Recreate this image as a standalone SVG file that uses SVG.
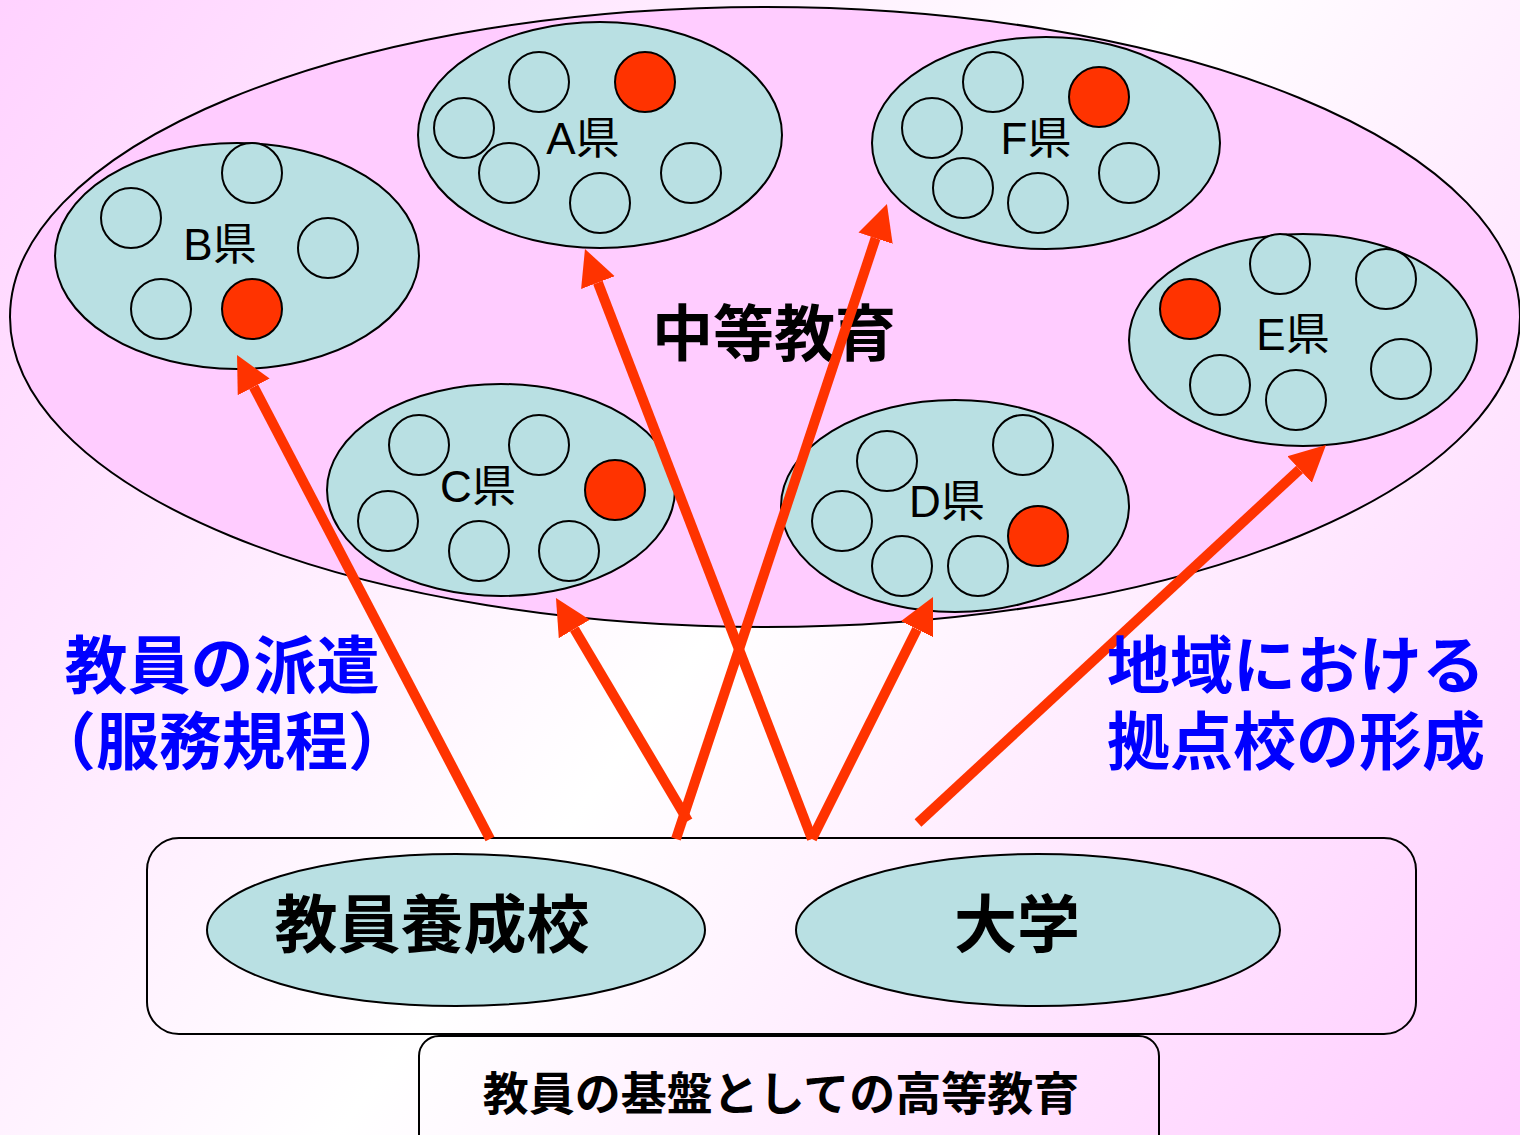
<svg xmlns="http://www.w3.org/2000/svg" width="1520" height="1135" viewBox="0 0 1520 1135">
<defs>
<linearGradient id="bg" x1="0" y1="0" x2="1520" y2="1135" gradientUnits="userSpaceOnUse">
<stop offset="0" stop-color="#FFD2FF"/>
<stop offset="0.5" stop-color="#FFFFFF"/>
<stop offset="1" stop-color="#FFCCFF"/>
</linearGradient>
<marker id="ah" markerUnits="userSpaceOnUse" markerWidth="40" markerHeight="40" viewBox="0 -20 40 40" refX="0" refY="0" orient="auto">
<path d="M0,-18 L36,0 L0,18 Z" fill="#FF3300"/>
</marker>
</defs>
<style>
.pref{fill:#B9E0E3;stroke:#000;stroke-width:2}
.sc{fill:#B9E0E3;stroke:#000;stroke-width:2}
.rc{fill:#FF3300;stroke:#000;stroke-width:2}
.lbl{font-family:"Liberation Sans","Noto Sans CJK JP",sans-serif;font-size:44px;fill:#000;text-anchor:middle}
.big{font-family:"Noto Sans CJK JP",sans-serif;font-weight:bold;fill:#000;text-anchor:middle}
.blue{font-family:"Noto Sans CJK JP",sans-serif;font-weight:bold;fill:#0000FF;text-anchor:middle;font-size:63px}
.arr{stroke:#FF3300;stroke-width:10;fill:none;marker-end:url(#ah)}
</style>
<rect x="0" y="0" width="1520" height="1135" fill="url(#bg)"/>

<g id="secondary">
<ellipse cx="765" cy="317" rx="755" ry="310" fill="#FFCCFF" stroke="#000" stroke-width="2"/>
<text class="big" x="774" y="356" font-size="61">中等教育</text>
</g>

<g id="prefB">
<ellipse class="pref" cx="237" cy="256" rx="182" ry="113"/>
<circle class="sc" cx="252" cy="173" r="30"/>
<circle class="sc" cx="131" cy="218" r="30"/>
<circle class="sc" cx="328" cy="248" r="30"/>
<circle class="sc" cx="161" cy="309" r="30"/>
<circle class="rc" cx="252" cy="309" r="30"/>
<text class="lbl" x="220" y="260">B県</text>
</g>

<g id="prefA">
<ellipse class="pref" cx="600" cy="135" rx="182" ry="113"/>
<circle class="sc" cx="539" cy="82" r="30"/>
<circle class="rc" cx="645" cy="82" r="30"/>
<circle class="sc" cx="464" cy="128" r="30"/>
<circle class="sc" cx="509" cy="173" r="30"/>
<circle class="sc" cx="600" cy="203" r="30"/>
<circle class="sc" cx="691" cy="173" r="30"/>
<text class="lbl" x="583" y="154">A県</text>
</g>

<g id="prefF">
<ellipse class="pref" cx="1046" cy="143" rx="174" ry="106"/>
<circle class="sc" cx="993" cy="82" r="30"/>
<circle class="sc" cx="932" cy="128" r="30"/>
<circle class="rc" cx="1099" cy="97" r="30"/>
<circle class="sc" cx="963" cy="188" r="30"/>
<circle class="sc" cx="1038" cy="203" r="30"/>
<circle class="sc" cx="1129" cy="173" r="30"/>
<text class="lbl" x="1036" y="154">F県</text>
</g>

<g id="prefE">
<ellipse class="pref" cx="1303" cy="340" rx="174" ry="106"/>
<circle class="sc" cx="1280" cy="264" r="30"/>
<circle class="sc" cx="1386" cy="279" r="30"/>
<circle class="rc" cx="1190" cy="309" r="30"/>
<circle class="sc" cx="1220" cy="385" r="30"/>
<circle class="sc" cx="1296" cy="400" r="30"/>
<circle class="sc" cx="1401" cy="369" r="30"/>
<text class="lbl" x="1293" y="350">E県</text>
</g>

<g id="prefC">
<ellipse class="pref" cx="501" cy="490" rx="174" ry="106"/>
<circle class="sc" cx="419" cy="445" r="30"/>
<circle class="sc" cx="539" cy="445" r="30"/>
<circle class="rc" cx="615" cy="490" r="30"/>
<circle class="sc" cx="388" cy="521" r="30"/>
<circle class="sc" cx="479" cy="551" r="30"/>
<circle class="sc" cx="569" cy="551" r="30"/>
<text class="lbl" x="478" y="502">C県</text>
</g>

<g id="prefD">
<ellipse class="pref" cx="955" cy="506" rx="174" ry="106"/>
<circle class="sc" cx="887" cy="461" r="30"/>
<circle class="sc" cx="1023" cy="445" r="30"/>
<circle class="sc" cx="842" cy="521" r="30"/>
<circle class="sc" cx="902" cy="566" r="30"/>
<circle class="sc" cx="978" cy="566" r="30"/>
<circle class="rc" cx="1038" cy="536" r="30"/>
<text class="lbl" x="947" y="517">D県</text>
</g>

<g id="higher">
<rect x="147" y="838" width="1269" height="196" rx="32" fill="none" stroke="#000" stroke-width="2"/>
</g>

<g id="training">
<ellipse cx="456" cy="930" rx="249" ry="76" fill="#B9E0E3" stroke="#000" stroke-width="2"/>
<text class="big" x="432" y="947" font-size="63">教員養成校</text>
</g>

<g id="univ">
<ellipse cx="1038" cy="930" rx="242" ry="76" fill="#B9E0E3" stroke="#000" stroke-width="2"/>
<text class="big" x="1017" y="947" font-size="63">大学</text>
</g>

<g id="base">
<rect x="419" y="1036" width="740" height="120" rx="20" fill="none" stroke="#000" stroke-width="2"/>
<text class="big" x="781" y="1110" font-size="46">教員の基盤としての高等教育</text>
</g>

<g id="connectors">
<line class="arr" x1="490" y1="839" x2="253.7" y2="386.9"/>
<line class="arr" x1="688" y1="821" x2="574.3" y2="629"/>
<line class="arr" x1="676" y1="839" x2="875.6" y2="238.2"/>
<line class="arr" x1="812" y1="839" x2="597.9" y2="282.6"/>
<line class="arr" x1="812" y1="839" x2="916.9" y2="629.2"/>
<line class="arr" x1="918" y1="823" x2="1299.6" y2="469.5"/>
</g>

<g id="labels">
<text class="blue" x="222" y="688">教員の派遣</text>
<text class="blue" x="222" y="764">（服務規程）</text>
<text class="blue" x="1296" y="688" font-size="61">地域における</text>
<text class="blue" x="1296" y="764" font-size="62">拠点校の形成</text>
</g>
</svg>
